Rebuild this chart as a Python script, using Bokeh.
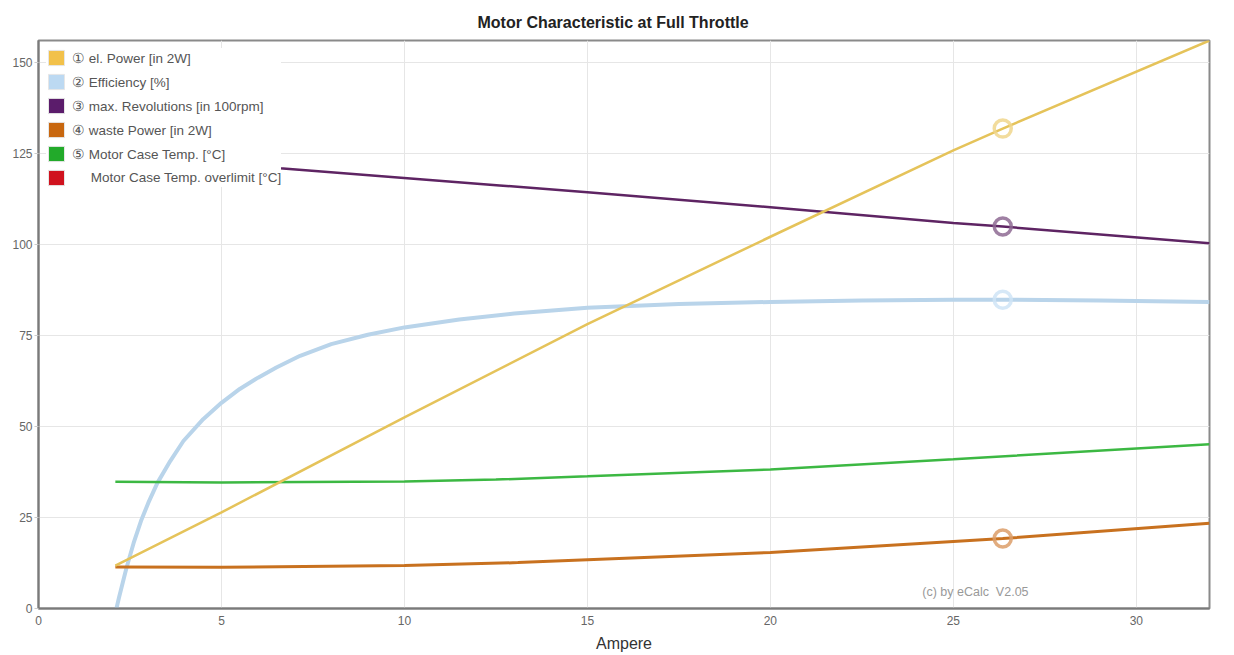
from bokeh.plotting import figure
from bokeh.models import Legend, LegendItem, Label, Range1d, FixedTicker, Title
from bokeh.embed import file_html
from bokeh.resources import INLINE

NAN = float("nan")

# ---------------- data ----------------
power_x = [2.1, 5, 10, 15, 20, 25, 26.35, 32]
power_y = [11.8, 26.4, 52.5, 78.1, 102.1, 125.8, 131.8, 156]

eff_x = [2.13, 2.2, 2.3, 2.4, 2.6, 2.8, 3.0, 3.25, 3.6, 3.96, 4.5, 5, 5.5, 6, 6.5,
         7.15, 8, 9, 10, 11.5, 13, 15, 17.5, 20, 22.5, 25, 26.35, 29, 32]
eff_y = [0, 3, 7, 11, 18, 24, 29, 34.5, 40.5, 46, 52, 56.5, 60.3, 63.4, 66.2,
         69.4, 72.6, 75.2, 77.2, 79.4, 81, 82.6, 83.6, 84.2, 84.6, 84.8, 84.8, 84.6, 84.2]

rev_x = [2.1, 6.6, 12.6, 15, 20, 25, 26.35, 32]
rev_y = [124.5, 120.9, 116.2, 114.3, 110.2, 105.9, 104.9, 100.3]

waste_x = [2.1, 5, 10, 13.1, 15, 20, 25, 26.35, 32]
waste_y = [11.4, 11.3, 11.8, 12.6, 13.4, 15.4, 18.4, 19.2, 23.4]

temp_x = [2.1, 5, 10, 12.5, 15, 20, 25, 32]
temp_y = [34.8, 34.6, 34.9, 35.4, 36.3, 38.2, 41.0, 45.1]

marker_x = 26.35

legend_labels = ["\u2460 el. Power [in 2W]", "\u2461 Efficiency [%]",
                 "\u2462 max. Revolutions [in 100rpm]", "\u2463 waste Power [in 2W]",
                 "\u2464 Motor Case Temp. [\u00b0C]",
                 "\u00a0\u00a0\u00a0\u00a0 Motor Case Temp. overlimit [\u00b0C]"]
swatch_colors = ["#f2c14a", "#bcd9f2", "#5b1c6b", "#c8670f", "#22aa2a", "#d0121e"]

right_labels = ["\u2460", "\u2462", "\u2461", "\u2464", "\u2463"]
right_label_y = [154.5, 99.8, 84.2, 44.0, 23.2]

x_ticks = [0, 5, 10, 15, 20, 25, 30]
y_ticks = [0, 25, 50, 75, 100, 125, 150]

title_text = "Motor Characteristic at Full Throttle"
credit_text = "(c) by eCalc\u00a0 V2.05"

FONT = "Liberation Sans"

p = figure(width=1234, height=655, output_backend="svg", toolbar_location=None,
           x_range=Range1d(0, 32), y_range=Range1d(0, 156),
           min_border_left=38, min_border_right=25, min_border_top=40,
           min_border_bottom=47, background_fill_color="white",
           border_fill_color="white")

p.title = Title(text=title_text, align="left", offset=439, text_font=FONT,
                text_font_size="16px", text_font_style="bold",
                text_color="#222222", standoff=20)

p.outline_line_color = "#8a8a8a"
p.outline_line_width = 2

p.xaxis.ticker = FixedTicker(ticks=x_ticks)
p.yaxis.ticker = FixedTicker(ticks=y_ticks)
p.xgrid.ticker = FixedTicker(ticks=x_ticks)
p.ygrid.ticker = FixedTicker(ticks=y_ticks)
p.grid.grid_line_color = "#e6e6e6"
p.grid.grid_line_width = 1

for ax in (p.xaxis, p.yaxis):
    ax.axis_line_color = "#7a7a7a"
    ax.axis_line_width = 2
    ax.minor_tick_line_color = None
    ax.major_label_text_font = FONT
    ax.major_label_text_font_size = "12px"
    ax.major_label_text_color = "#666666"

p.xaxis.major_tick_line_color = None
p.xaxis.major_tick_out = 0
p.xaxis.major_tick_in = 0
p.xaxis.major_label_standoff = 7
p.xaxis.axis_label = "Ampere"
p.xaxis.axis_label_text_font = FONT
p.xaxis.axis_label_text_font_size = "16px"
p.xaxis.axis_label_text_font_style = "normal"
p.xaxis.axis_label_text_color = "#333333"
p.xaxis.axis_label_standoff = 7

p.yaxis.major_tick_line_color = "#cccccc"
p.yaxis.major_tick_out = 4
p.yaxis.major_tick_in = 0
p.yaxis.major_label_standoff = 2

# ---------------- lines ----------------
p.line(eff_x, eff_y, line_color="#b9d4ea", line_width=4)
p.line(temp_x, temp_y, line_color="#3cb843", line_width=2.5)
p.line(waste_x, waste_y, line_color="#c8711f", line_width=3)
p.line(rev_x, rev_y, line_color="#5e2463", line_width=2.5)
p.line(power_x, power_y, line_color="#e5c35a", line_width=2.5)

# ---------------- markers at the operating point ----------------
def at(xs, ys, x0):
    return ys[xs.index(x0)]

marker_specs = [(power_x, power_y, "#f0d68c"), (eff_x, eff_y, "#cfe4f6"),
                (rev_x, rev_y, "#8e6a93"), (waste_x, waste_y, "#dc9e68")]
for xs, ys, col in marker_specs:
    p.scatter([marker_x], [at(xs, ys, marker_x)], marker="circle", size=17,
              fill_color=None, line_color=col, line_width=3.5, line_alpha=0.85)

# ---------------- legend (square swatches) ----------------
items = []
for lab, col in zip(legend_labels, swatch_colors):
    r = p.quad(left=[NAN], right=[NAN], top=[NAN], bottom=[NAN], fill_color=col,
               line_color="#e6e6e6", line_width=1)
    items.append(LegendItem(label=lab, renderers=[r]))

legend = Legend(items=items, location="top_left", margin=8, padding=0,
                spacing=5, glyph_width=20, glyph_height=19, label_height=19,
                label_standoff=6, label_text_font=FONT, label_text_font_size="13.5px",
                label_text_color="#555555", background_fill_color="white",
                background_fill_alpha=1.0, border_line_color=None)
p.add_layout(legend)

# ---------------- right-hand series numbers ----------------
for txt, yv in zip(right_labels, right_label_y):
    p.add_layout(Label(x=32, y=yv, x_offset=10, text=txt, text_font=FONT,
                       text_font_size="12.5px", text_color="#444444",
                       text_baseline="middle", text_align="left"))

p.add_layout(Label(x=24.15, y=4.4, text=credit_text, text_font=FONT,
                   text_font_size="12.5px", text_color="#999999",
                   text_baseline="middle", text_align="left"))

open("out.html", "w").write(file_html(p, INLINE))
